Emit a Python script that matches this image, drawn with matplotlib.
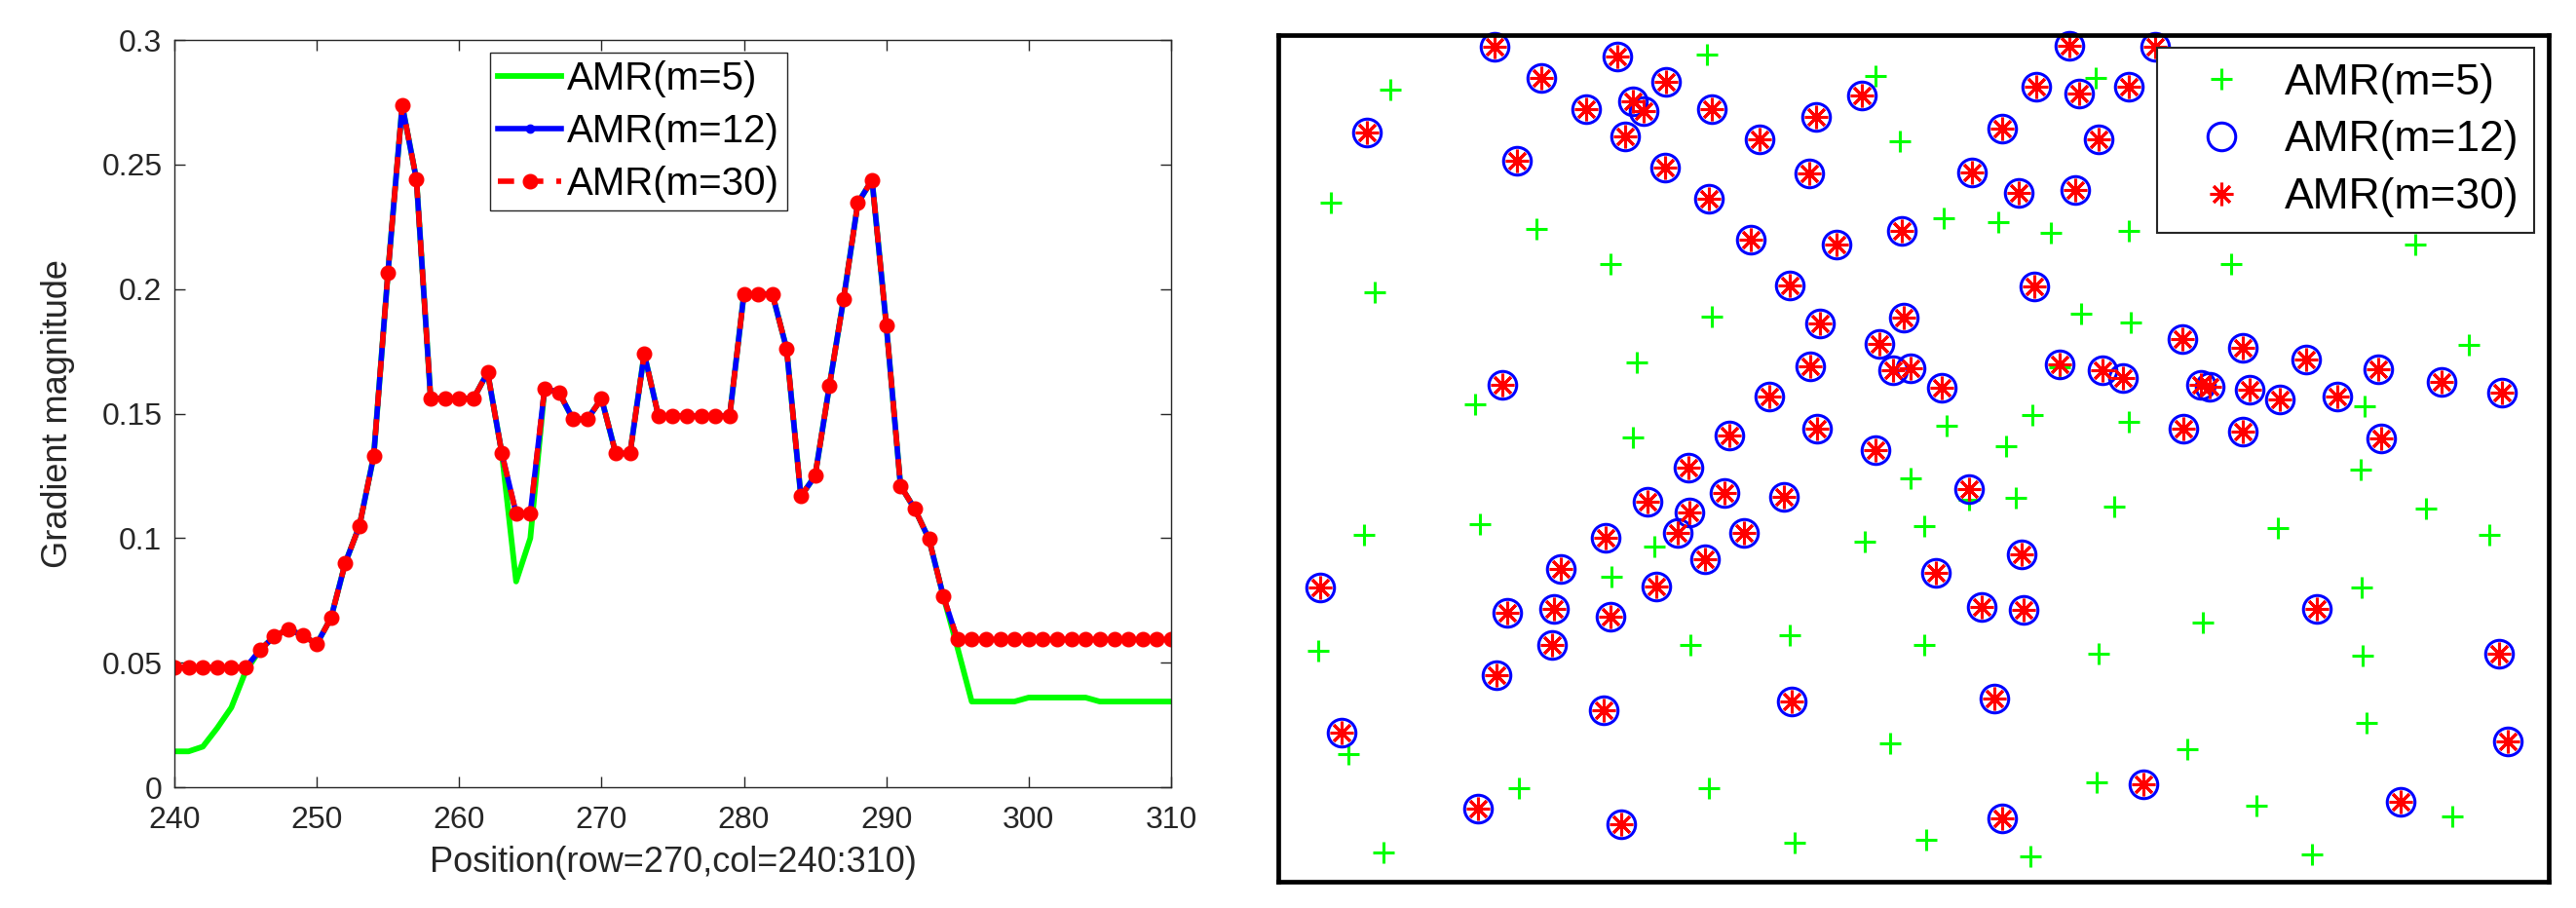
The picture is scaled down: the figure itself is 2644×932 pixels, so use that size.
import numpy as np
import matplotlib
matplotlib.use('Agg')
import matplotlib.pyplot as plt

plt.rcParams['font.family'] = ['Liberation Sans', 'DejaVu Sans']

# ---------------- left panel: gradient profile along row 270 ----------------
position = np.arange(240, 311)  # col = 240:310

amr5 = [0.0144, 0.0144, 0.0163, 0.0237, 0.0320, 0.0465,                        # 240-245
        0.055, 0.0605, 0.0635, 0.061, 0.0575, 0.068, 0.090, 0.105, 0.133, 0.2066,  # 246-255
        0.2738, 0.244, 0.156, 0.156, 0.156, 0.156, 0.1665, 0.134, 0.0826, 0.100,   # 256-265
        0.160, 0.1586, 0.1477, 0.1477, 0.156, 0.134, 0.134, 0.174, 0.149, 0.149,   # 266-275
        0.149, 0.149, 0.149, 0.149, 0.198, 0.198, 0.198, 0.176, 0.1168, 0.125,     # 276-285
        0.161, 0.196, 0.2345, 0.2438, 0.1856, 0.121, 0.1117, 0.0996, 0.0768, 0.056,  # 286-295
        0.0344, 0.0344, 0.0344, 0.0344, 0.036, 0.036, 0.036, 0.036, 0.036, 0.0344,   # 296-305
        0.0344, 0.0344, 0.0344, 0.0344, 0.0344]                                       # 306-310

amr30 = [0.048, 0.048, 0.048, 0.048, 0.048, 0.048,                              # 240-245
         0.055, 0.0605, 0.0635, 0.061, 0.0575, 0.068, 0.090, 0.105, 0.133, 0.2066,  # 246-255
         0.2738, 0.244, 0.156, 0.156, 0.156, 0.156, 0.1665, 0.134, 0.110, 0.110,    # 256-265
         0.160, 0.1586, 0.1477, 0.1477, 0.156, 0.134, 0.134, 0.174, 0.149, 0.149,   # 266-275
         0.149, 0.149, 0.149, 0.149, 0.198, 0.198, 0.198, 0.176, 0.1168, 0.125,     # 276-285
         0.161, 0.196, 0.2345, 0.2438, 0.1856, 0.121, 0.1117, 0.0996, 0.0768, 0.0593,  # 286-295
         0.0593, 0.0593, 0.0593, 0.0593, 0.0593, 0.0593, 0.0593, 0.0593, 0.0593, 0.0593,  # 296-305
         0.0593, 0.0593, 0.0593, 0.0593, 0.0593]                                          # 306-310

amr12 = list(amr30)  # m=12 and m=30 curves lie on top of each other

yticks = [0, 0.05, 0.1, 0.15, 0.2, 0.25, 0.3]
ytick_labels = ['0', '0.05', '0.1', '0.15', '0.2', '0.25', '0.3']
xticks = [240, 250, 260, 270, 280, 290, 300, 310]

# ---------------- right panel: detected points (pixel coords in frame) ----------------
frame_w, frame_h = 1304, 869

pts5_x = [115, 440, 613, 638, 54, 265, 341, 99, 445, 368, 202, 364, 649,
          839, 683, 739, 793, 873, 1167, 978, 824, 875, 1222, 802, 1115, 686, 774, 873, 747, 1111,
          88, 207, 386, 602, 663, 342, 41, 423, 525, 663, 72, 628, 247, 442, 108, 530, 665,
          709, 757, 858, 1026, 1178, 1243, 1112, 949, 842, 1113, 1117, 933, 840, 1004, 1205, 772, 1061,
          379, 410, 388, 283]
pts5_y = [56, 20, 42, 109, 172, 199, 235, 264, 289, 336, 379, 413, 455,
          44, 188, 192, 203, 201, 215, 235, 286, 295, 318, 341, 381, 401, 390, 397, 422, 446,
          513, 502, 525, 520, 504, 556, 632, 626, 616, 626, 738, 727, 773, 773, 839, 829, 826,
          477, 475, 484, 506, 486, 513, 567, 603, 635, 637, 706, 733, 767, 791, 802, 843, 841,
          479, 511, 566, 589]

pts12_x = [222, 270, 348, 398, 316, 364, 375, 356, 445, 91, 245, 397, 494, 552, 599, 545, 442,
           485, 573, 640, 525, 556, 642, 617, 546, 631, 649, 681, 504, 230, 463, 553, 613, 421,
           812, 900, 778, 822, 873, 743, 842, 712, 760, 818, 776, 928, 990, 1055, 1129, 1194,
           1256, 802, 846, 867, 947, 956, 997, 1028, 1087, 929, 990, 1132,
           379, 422, 458, 519, 410, 478, 438, 336, 290, 388, 43, 235, 283, 341, 281, 224, 334,
           527, 65, 205, 352,
           709, 763, 675, 722, 765, 1066, 1253, 735, 1262, 888, 1152, 743]
pts12_y = [12, 44, 22, 48, 76, 68, 78, 104, 76, 100, 129, 136, 107, 84, 62, 142, 168,
           210, 215, 201, 257, 296, 290, 317, 340, 344, 342, 362, 371, 359, 411, 404, 426, 444,
           11, 12, 53, 60, 53, 96, 107, 141, 162, 159, 258, 312, 321, 333, 343, 356,
           367, 338, 344, 352, 359, 361, 364, 374, 371, 404, 407, 414,
           479, 490, 470, 474, 511, 511, 538, 516, 548, 566, 567, 593, 589, 597, 626, 657, 693,
           684, 716, 794, 810,
           466, 533, 552, 587, 590, 589, 635, 681, 725, 769, 787, 804]

# m=30 finds exactly the same points as m=12
pts30_x = list(pts12_x)
pts30_y = list(pts12_y)


def plot_profile(ax):
    """gradient magnitude along the row for the three m values"""
    ax.plot(position, amr5, color='#00ff00', lw=4.2, label='AMR(m=5)')
    ax.plot(position, amr12, color='#0000ff', lw=4, marker='.', ms=12, label='AMR(m=12)')
    ax.plot(position, amr30, color='#ff0000', lw=4, ls=(0, (3, 2.4)), marker='o', ms=10.5,
            mew=1, label='AMR(m=30)')

    ax.set_xlim(240, 310)
    ax.set_ylim(0, 0.3)
    ax.set_xticks(xticks)
    ax.set_yticks(yticks)
    ax.set_yticklabels(ytick_labels)
    ax.tick_params(direction='in', length=8, width=1, top=True, right=True,
                   labelsize=23, colors='#262626', pad=9)
    ax.tick_params(axis='x', pad=14)
    for sp in ax.spines.values():
        sp.set_color('#262626')
        sp.set_linewidth(1)

    ax.set_xlabel('Position(row=270,col=240:310)', fontsize=26, color='#262626')
    ax.set_ylabel('Gradient magnitude', fontsize=26, color='#262626')
    ax.xaxis.set_label_coords(0.5, -0.078)
    ax.yaxis.set_label_coords(-0.1, 0.5)

    leg = ax.legend(loc='upper left', bbox_to_anchor=(0.317, 0.983), borderaxespad=0,
                    fontsize=29, handlelength=1.6, handletextpad=0.15, borderpad=0.2,
                    labelspacing=0.4, numpoints=1, fancybox=False, framealpha=1,
                    edgecolor='#262626')
    leg.get_frame().set_linewidth(1)


def plot_points(ax):
    """feature points found for each m, no axes ticks, thick black frame"""
    ax.plot(pts5_x, pts5_y, ls='none', marker='+', ms=16.5, mew=2.2, color='#00ff00',
            label='AMR(m=5)', clip_on=False)
    ax.plot(pts12_x, pts12_y, ls='none', marker='o', ms=20.5, mew=2.2, mfc='none',
            mec='#0000ff', label='AMR(m=12)', clip_on=False)
    ax.plot(pts30_x, pts30_y, ls='none', marker=(8, 2, 0), ms=17, mew=2.2, color='#ff0000',
            label='AMR(m=30)', clip_on=False)

    ax.set_xlim(0, frame_w)
    ax.set_ylim(frame_h, 0)
    ax.set_xticks([])
    ax.set_yticks([])
    for sp in ax.spines.values():
        sp.set_color('black')
        sp.set_linewidth(3.4)

    leg = ax.legend(loc='upper right', bbox_to_anchor=(0.9885, 0.9845), borderaxespad=0,
                    fontsize=32, handlelength=2.27, handletextpad=0.33, borderpad=0.35,
                    labelspacing=0.4, numpoints=1, fancybox=False, framealpha=1,
                    edgecolor='#262626')
    leg.get_frame().set_linewidth(1.5)


if __name__ == "__main__":
    fig = plt.figure(figsize=(26.44, 9.32), dpi=100)
    ax1 = fig.add_axes([0.0677, 0.1330, 0.3869, 0.8230])
    ax2 = fig.add_axes([0.4962, 0.0295, 0.4932, 0.9324])

    plot_profile(ax1)
    plot_points(ax2)

    fig.savefig('out.png', dpi=100, facecolor='white')
